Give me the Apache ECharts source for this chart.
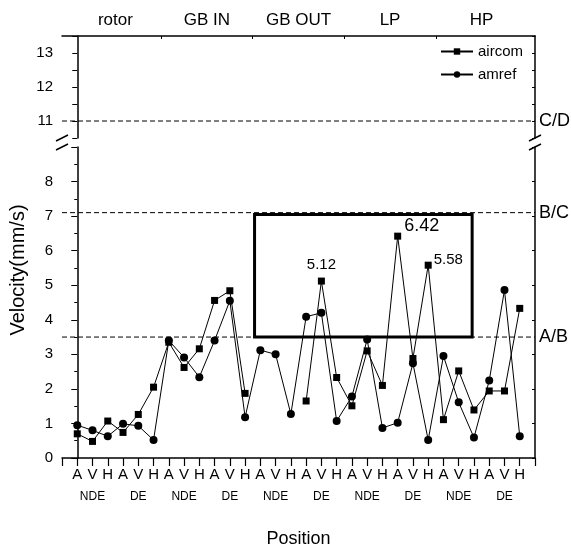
<!DOCTYPE html>
<html>
<head>
<meta charset="utf-8">
<script src="https://cdn.jsdelivr.net/npm/echarts@6/dist/echarts.min.js"></script>
<style>
  html, body { margin: 0; padding: 0; background: #fff; }
  #main { width: 571px; height: 553px; }
</style>
</head>
<body>
<div id="main"></div>
<script>
// data
const positions = ['A','V','H','A','V','H','A','V','H','A','V','H','A','V','H',
                   'A','V','H','A','V','H','A','V','H','A','V','H','A','V','H'];
const ends = ['NDE','DE','NDE','DE','NDE','DE','NDE','DE','NDE','DE'];
const groups = ['rotor','GB IN','GB OUT','LP','HP'];
const aircom = [0.70,0.48,1.07,0.74,1.26,2.05,3.35,2.62,3.16,4.56,4.84,1.87,null,null,null,
                1.65,5.12,2.33,1.51,3.10,2.10,6.42,2.88,5.58,1.11,2.52,1.39,1.94,1.94,4.33];
const amref = [0.95,0.80,0.63,0.99,0.93,0.52,3.40,2.91,2.34,3.40,4.55,1.18,3.12,3.00,1.27,
               4.09,4.20,1.07,1.78,3.43,0.87,1.02,2.74,0.52,2.95,1.61,0.59,2.24,4.86,0.63];
const limitNames = ['A/B','B/C','C/D'];
const limitValues = [3.5, 7.1, 11];
const peakIdx = [16, 21, 23];
const boxX = [11.62, 25.88];
const boxY = [3.5, 7.05];

const FONT = "'Liberation Sans', Arial, sans-serif";
const NARROW = "'Liberation Sans Narrow', 'Liberation Sans', Arial, sans-serif";

// layout of the two panels (broken y axis)
const LEFT = 62, RIGHT = 36;
const TOP_T = 36, TOP_H = 102;
const BOT_T = 147, BOT_H = 318;

let chartDom = document.getElementById('main');
let myChart = echarts.init(chartDom);

// peak label looks
const peakStyle = {
  16: { position: 'top', distance: 5, fontSize: 15 },
  21: { position: 'right', distance: 3, offset: [0, -10], fontSize: 18 },
  23: { position: 'right', distance: 2, offset: [0, -5], fontSize: 15 }
};

let airData = aircom.map((v, i) => {
  let item = { value: [i, v == null ? '-' : v] };
  if (peakIdx.indexOf(i) >= 0) {
    item.label = Object.assign({
      show: true, color: '#000', fontFamily: FONT,
      formatter: p => Number(p.value[1]).toFixed(2)
    }, peakStyle[i]);
  }
  return item;
});
let amData = amref.map((v, i) => [i, v]);

let limitSeries = limitNames.map((name, k) => {
  const v = limitValues[k];
  const top = v > 10;
  return {
    name: name,
    type: 'line',
    xAxisIndex: top ? 0 : 1,
    yAxisIndex: top ? 0 : 2,
    data: [[-1, v], [30, v]],
    symbol: 'none',
    silent: true,
    lineStyle: { color: '#000', width: 1, type: [5, 3] },
    endLabel: {
      show: true, formatter: name, color: '#000', fontSize: 18,
      fontFamily: NARROW, distance: 4
    },
    z: 1
  };
});

function breakMark(x, y) {
  return {
    type: 'line',
    shape: { x1: x - 6, y1: y + 3, x2: x + 6, y2: y - 3 },
    style: { stroke: '#000', lineWidth: 1.5 }
  };
}
const W = 571;
const xL = LEFT, xR = W - RIGHT;
const yTopEnd = TOP_T + TOP_H, yBotStart = BOT_T;

const axisLineStyle = { color: '#000', width: 1.5 };

let option = {
  animation: false,
  backgroundColor: '#fff',
  textStyle: { fontFamily: FONT, color: '#000' },
  grid: [
    { left: LEFT, right: RIGHT, top: TOP_T, height: TOP_H },
    { left: LEFT, right: RIGHT, top: BOT_T, height: BOT_H }
  ],
  legend: {
    data: ['aircom', 'amref'],
    orient: 'vertical',
    left: 440,
    top: 44,
    padding: 0,
    itemWidth: 32,
    itemHeight: 8,
    itemGap: 8,
    textStyle: { fontSize: 15, color: '#000', fontFamily: NARROW }
  },
  xAxis: [
    {
      gridIndex: 0, type: 'value', position: 'top', min: -1, max: 30,
      axisLine: { show: true, lineStyle: axisLineStyle },
      axisTick: { show: true, inside: true, length: 3, customValues: [5.5, 11.5, 17.5, 23.5],
                  lineStyle: { color: '#000' } },
      axisLabel: {
        customValues: [2.5, 8.5, 14.5, 20.5, 26.5],
        formatter: v => groups[Math.round((v - 2.5) / 6)],
        fontSize: 17, color: '#000', margin: 7, fontFamily: NARROW
      },
      splitLine: { show: false }
    },
    {
      gridIndex: 1, type: 'value', min: -1, max: 30, interval: 1,
      axisLine: { show: true, lineStyle: axisLineStyle },
      axisTick: { show: true, length: 8, lineStyle: { color: '#000', width: 1.2 } },
      axisLabel: {
        margin: 6,
        formatter: v => {
          if (v < 0 || v > 29) return '';
          const sub = (v % 3 === 1) ? ends[Math.floor(v / 3)] : ' ';
          return '{a|' + positions[v] + '}\n{b|' + sub + '}';
        },
        rich: {
          a: { fontSize: 15, color: '#000', lineHeight: 22, fontFamily: FONT },
          b: { fontSize: 12, color: '#000', lineHeight: 22, fontFamily: NARROW }
        }
      },
      splitLine: { show: false },
      name: 'Position',
      nameLocation: 'middle',
      nameGap: 72,
      nameTextStyle: { fontSize: 18, color: '#000', fontFamily: NARROW }
    }
  ],
  yAxis: [
    {
      gridIndex: 0, type: 'value', min: 10.5, max: 13.5, interval: 0.5,
      axisLine: { show: true, lineStyle: axisLineStyle },
      axisTick: { show: true, length: 5, lineStyle: { color: '#000' } },
      axisLabel: {
        fontSize: 15, color: '#000', margin: 9,
        formatter: v => Math.abs(v - Math.round(v)) < 1e-6 && v > 10.6 ? String(Math.round(v)) : ''
      },
      splitLine: { show: false }
    },
    {
      gridIndex: 0, type: 'value', position: 'right', min: 10.5, max: 13.5, interval: 0.5,
      axisLine: { show: true, lineStyle: axisLineStyle },
      axisTick: { show: true, inside: true, length: 3, lineStyle: { color: '#000' } },
      axisLabel: { show: false },
      splitLine: { show: false }
    },
    {
      gridIndex: 1, type: 'value', min: 0, max: 9, interval: 1,
      axisLine: { show: true, lineStyle: axisLineStyle },
      axisTick: { show: true, length: 6, lineStyle: { color: '#000' } },
      minorTick: { show: true, splitNumber: 2, length: 3, lineStyle: { color: '#000' } },
      axisLabel: { fontSize: 15, color: '#000', margin: 9, showMaxLabel: false },
      splitLine: { show: false }
    },
    {
      gridIndex: 1, type: 'value', position: 'right', min: 0, max: 9, interval: 1,
      axisLine: { show: true, lineStyle: axisLineStyle },
      axisTick: { show: true, inside: true, length: 3, lineStyle: { color: '#000' } },
      axisLabel: { show: false },
      splitLine: { show: false }
    }
  ],
  graphic: [
    breakMark(xL, yTopEnd), breakMark(xL, yBotStart),
    breakMark(xR, yTopEnd), breakMark(xR, yBotStart),
    {
      type: 'text',
      x: 18, y: 270,
      rotation: Math.PI / 2,
      style: {
        text: 'Velocity(mm/s)',
        font: '20px ' + FONT,
        fill: '#000',
        align: 'center',
        verticalAlign: 'middle'
      }
    }
  ],
  series: [
    {
      name: 'aircom',
      type: 'line',
      xAxisIndex: 1, yAxisIndex: 2,
      data: airData,
      symbol: 'rect',
      symbolSize: 7,
      connectNulls: false,
      itemStyle: { color: '#000' },
      lineStyle: { color: '#000', width: 1 },
      markArea: {
        silent: true,
        itemStyle: { color: 'rgba(0,0,0,0)', borderColor: '#000', borderWidth: 3 },
        data: [[{ coord: [boxX[0], boxY[1]] }, { coord: [boxX[1], boxY[0]] }]]
      },
      z: 3
    },
    {
      name: 'amref',
      type: 'line',
      xAxisIndex: 1, yAxisIndex: 2,
      data: amData,
      symbol: 'circle',
      symbolSize: 8,
      itemStyle: { color: '#000' },
      lineStyle: { color: '#000', width: 1 },
      z: 3
    }
  ].concat(limitSeries)
};

option && myChart.setOption(option);
</script>
</body>
</html>
